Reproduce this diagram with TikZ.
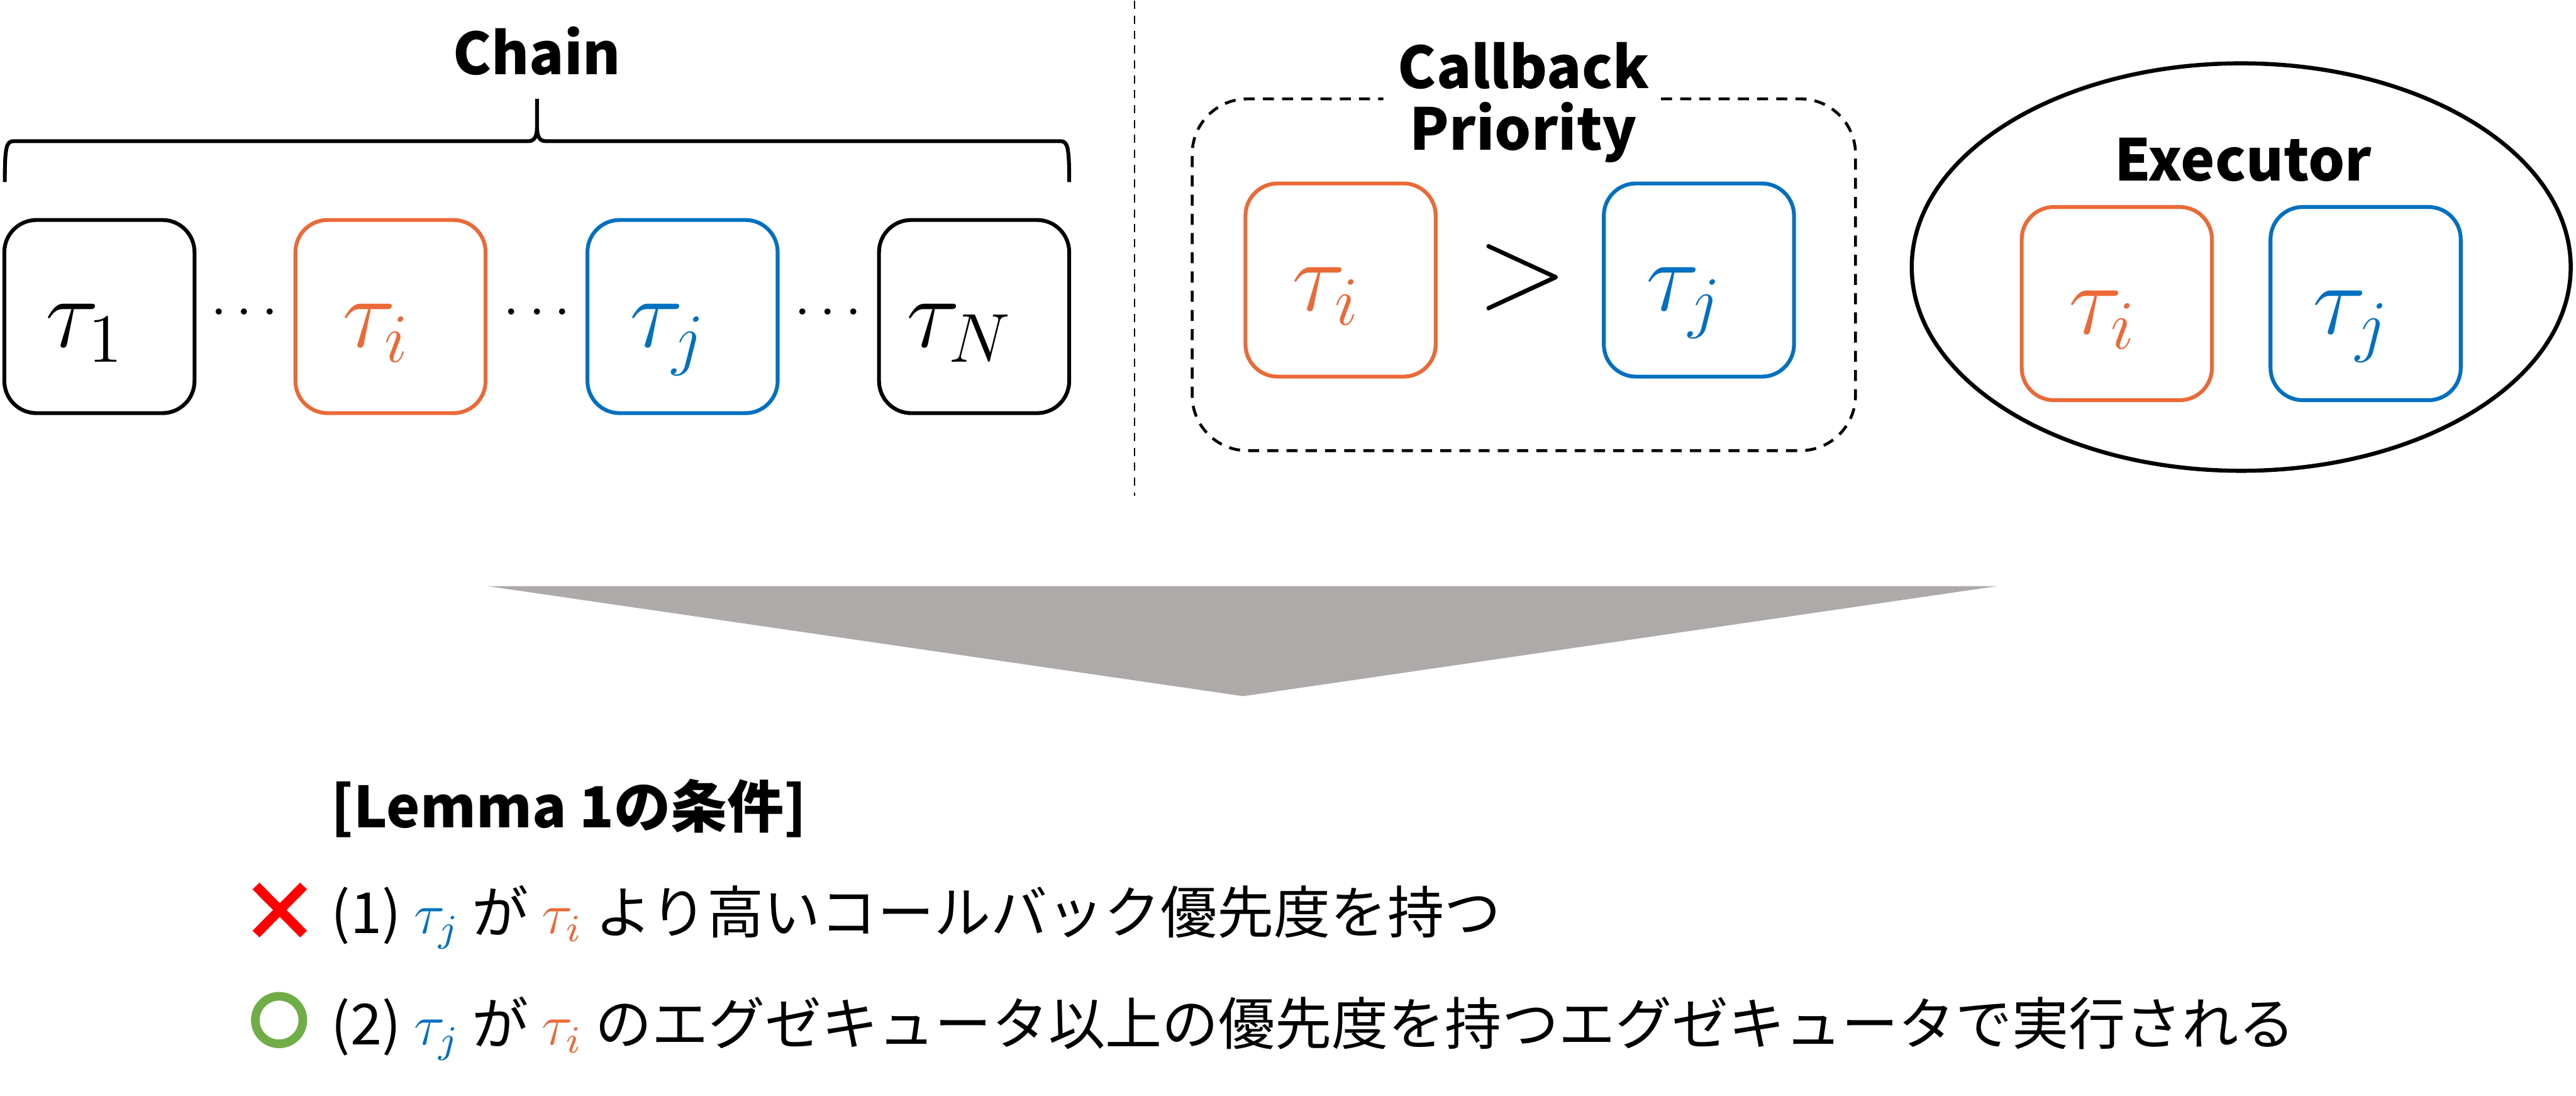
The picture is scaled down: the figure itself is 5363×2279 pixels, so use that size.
\documentclass[tikz,border=0pt]{standalone}
\usepackage{fontspec}
\setmainfont{Noto Sans CJK JP}
\usetikzlibrary{shapes.geometric}
\definecolor{lemOrange}{HTML}{EB6937}
\definecolor{lemBlue}{HTML}{0070C0}
\definecolor{lemGray}{HTML}{AEAAAA}
\definecolor{lemRed}{HTML}{FF0000}
\definecolor{lemGreen}{HTML}{70AD47}

\begin{document}
\begin{tikzpicture}[x=0.1pt,y=-0.1pt,line join=round]
\path[fill=white] (0,0) rectangle (5363,2279);
\tikzset{task/.style={draw,line width=0.8pt,rounded corners=6.7pt,minimum width=39.6pt,minimum height=40.2pt,inner sep=0pt,font=\fontsize{20}{24}\selectfont,text height=14pt,text depth=1.4pt,execute at end node=\hspace{6pt}},itask/.style={task,draw=lemOrange,text=lemOrange},jtask/.style={task,draw=lemBlue,text=lemBlue},title/.style={font=\fontsize{12}{12.8}\selectfont\bfseries,inner sep=0pt},body/.style={font=\fontsize{11.8}{14}\selectfont,inner sep=0pt,anchor=base west},dots/.style={font=\fontsize{11.5}{14}\selectfont,inner sep=0pt,anchor=base},dashbox/.style={draw,line width=0.6pt,dash pattern=on 2.3pt off 1.7pt,rounded corners=11.5pt}}
\node[task] (t1) at (207,657) {$\tau_1$}; \node[itask] (ti) at (813,657) {$\tau_i$};
\node[jtask] (tj) at (1421,657) {$\tau_j$}; \node[task] (tN) at (2028,657) {$\tau_N$};
\node[dots] (d1) at (509,677) {$\cdots$}; \node[dots] (d2) at (1118,677) {$\cdots$}; \node[dots] (d3) at (1724,677) {$\cdots$};
\draw[line width=0.8pt] (10,377) .. controls (10,305) and (13,292) .. (28,292) -- (1100,292) .. controls (1114,292) and (1118,280) .. (1118,262) -- (1118,204);
\draw[line width=0.8pt] (1118,262) .. controls (1118,280) and (1122,292) .. (1136,292) -- (2208,292) .. controls (2223,292) and (2226,305) .. (2226,377);
\node[title,anchor=base] (chain) at (1118,153) {Chain};
\draw[line width=0.35pt,dash pattern=on 1.7pt off 1.4pt] (2362,0) -- (2362,1030);
\draw[dashbox] (3458,204) -- (3863,204) -- (3863,936) -- (2482,936) -- (2482,204) -- (2880,204);
\node[title,anchor=north,align=center] (prio) at (3172,84) {Callback\\Priority};
\node[itask] (pi) at (2791,581) {$\tau_i$}; \node[jtask] (pj) at (3537,581) {$\tau_j$};
\node[font=\fontsize{27}{30}\selectfont,inner sep=0pt] (gt) at (3170,576) {$>$};
\node[draw,ellipse,line width=0.85pt,minimum width=137.2pt,minimum height=84.8pt,inner sep=0pt] (exec) at (4666,554) {};
\node[title,anchor=base] (execlabel) at (4670,375) {Executor};
\node[itask] (ei) at (4407,630) {$\tau_i$}; \node[jtask] (ej) at (4925,630) {$\tau_j$};
\fill[lemGray] (1015,1218) -- (4158,1218) -- (2588,1447) -- cycle;
\node[body,font=\fontsize{11.8}{14}\selectfont\bfseries] (lemma) at (687,1720) {[Lemma 1の条件]};
\draw[lemRed,line width=2pt] (533,1842) -- (632,1942) (533,1942) -- (632,1842);
\node[body] (cond1) at (688,1940) {(1) \textcolor{lemBlue}{$\tau_j$} が \textcolor{lemOrange}{$\tau_i$} より高いコールバック優先度を持つ};
\draw[lemGreen,line width=1.8pt] (581,2121) circle (4.95pt);
\node[body] (cond2) at (688,2172) {(2) \textcolor{lemBlue}{$\tau_j$} が \textcolor{lemOrange}{$\tau_i$} のエグゼキュータ以上の優先度を持つエグゼキュータで実行される};
\end{tikzpicture}
\end{document}
